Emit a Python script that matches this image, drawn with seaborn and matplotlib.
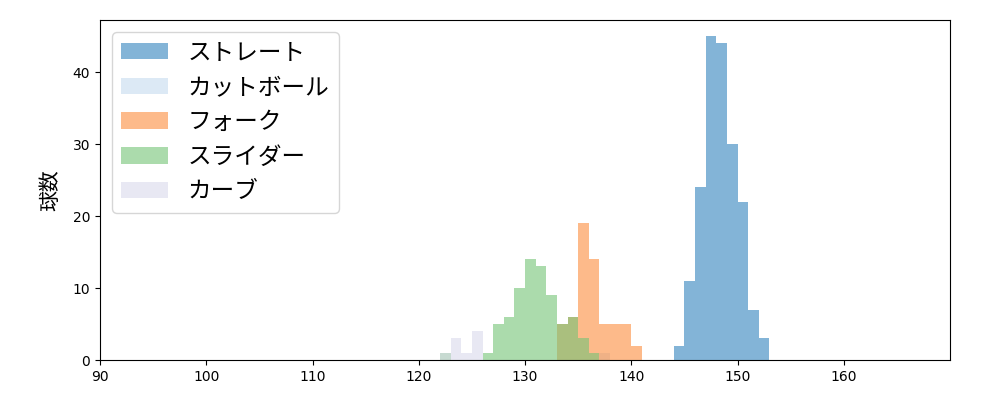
import numpy as np
import pandas as pd
import matplotlib
matplotlib.use("Agg")
import matplotlib.pyplot as plt
import seaborn as sns

# speed bins (km/h, left edge) and pitch counts
labels = ["ストレート", "カットボール", "フォーク", "スライダー", "カーブ"]

straight_speed = [144, 145, 146, 147, 148, 149, 150, 151, 152]
straight_count = [2, 11, 24, 45, 44, 30, 22, 7, 3]

cutball_speed = [137]
cutball_count = [1]

fork_speed = [133, 134, 135, 136, 137, 138, 139, 140]
fork_count = [5, 6, 19, 14, 5, 5, 5, 2]

slider_speed = [122, 126, 127, 128, 129, 130, 131, 132, 133, 134, 135, 136]
slider_count = [1, 1, 5, 6, 10, 14, 13, 9, 5, 6, 3, 1]

curve_speed = [122, 123, 124, 125]
curve_count = [1, 3, 1, 4]

xticks = [90, 100, 110, 120, 130, 140, 150, 160]
yticks = [0, 10, 20, 30, 40]

pal = sns.color_palette("tab20c", 20)
colors = [pal[0], pal[3], pal[5], pal[9], pal[15]]

plt.rcParams['font.family'] = ['DejaVu Sans', 'Noto Sans CJK JP']

fig, ax = plt.subplots(figsize=(10, 4), dpi=100)
fig.subplots_adjust(left=0.1, right=0.95, top=0.95, bottom=0.1)

series = [
    (straight_speed, straight_count),
    (cutball_speed, cutball_count),
    (fork_speed, fork_count),
    (slider_speed, slider_count),
    (curve_speed, curve_count),
]
for (spd, cnt), lab, col in zip(series, labels, colors):
    df = pd.DataFrame({"speed": np.array(spd) + 0.5, "count": cnt})
    sns.histplot(data=df, x="speed", weights="count", binwidth=1,
                 binrange=(min(spd), max(spd) + 1), color=col, alpha=0.6,
                 linewidth=0, label=lab, ax=ax, stat="count")

ax.set_xlim(90, 170)
ax.set_xticks(xticks)
ax.set_yticks(yticks)
ax.set_xlabel("")
ax.set_ylabel("球数", fontsize=15, labelpad=8,
              family=['Noto Sans CJK JP', 'DejaVu Sans'])
ax.tick_params(labelsize=10)
ax.legend(loc="upper left", prop={'family': ['Noto Sans CJK JP', 'DejaVu Sans'], 'size': 17})

fig.savefig("out.png", dpi=100)
